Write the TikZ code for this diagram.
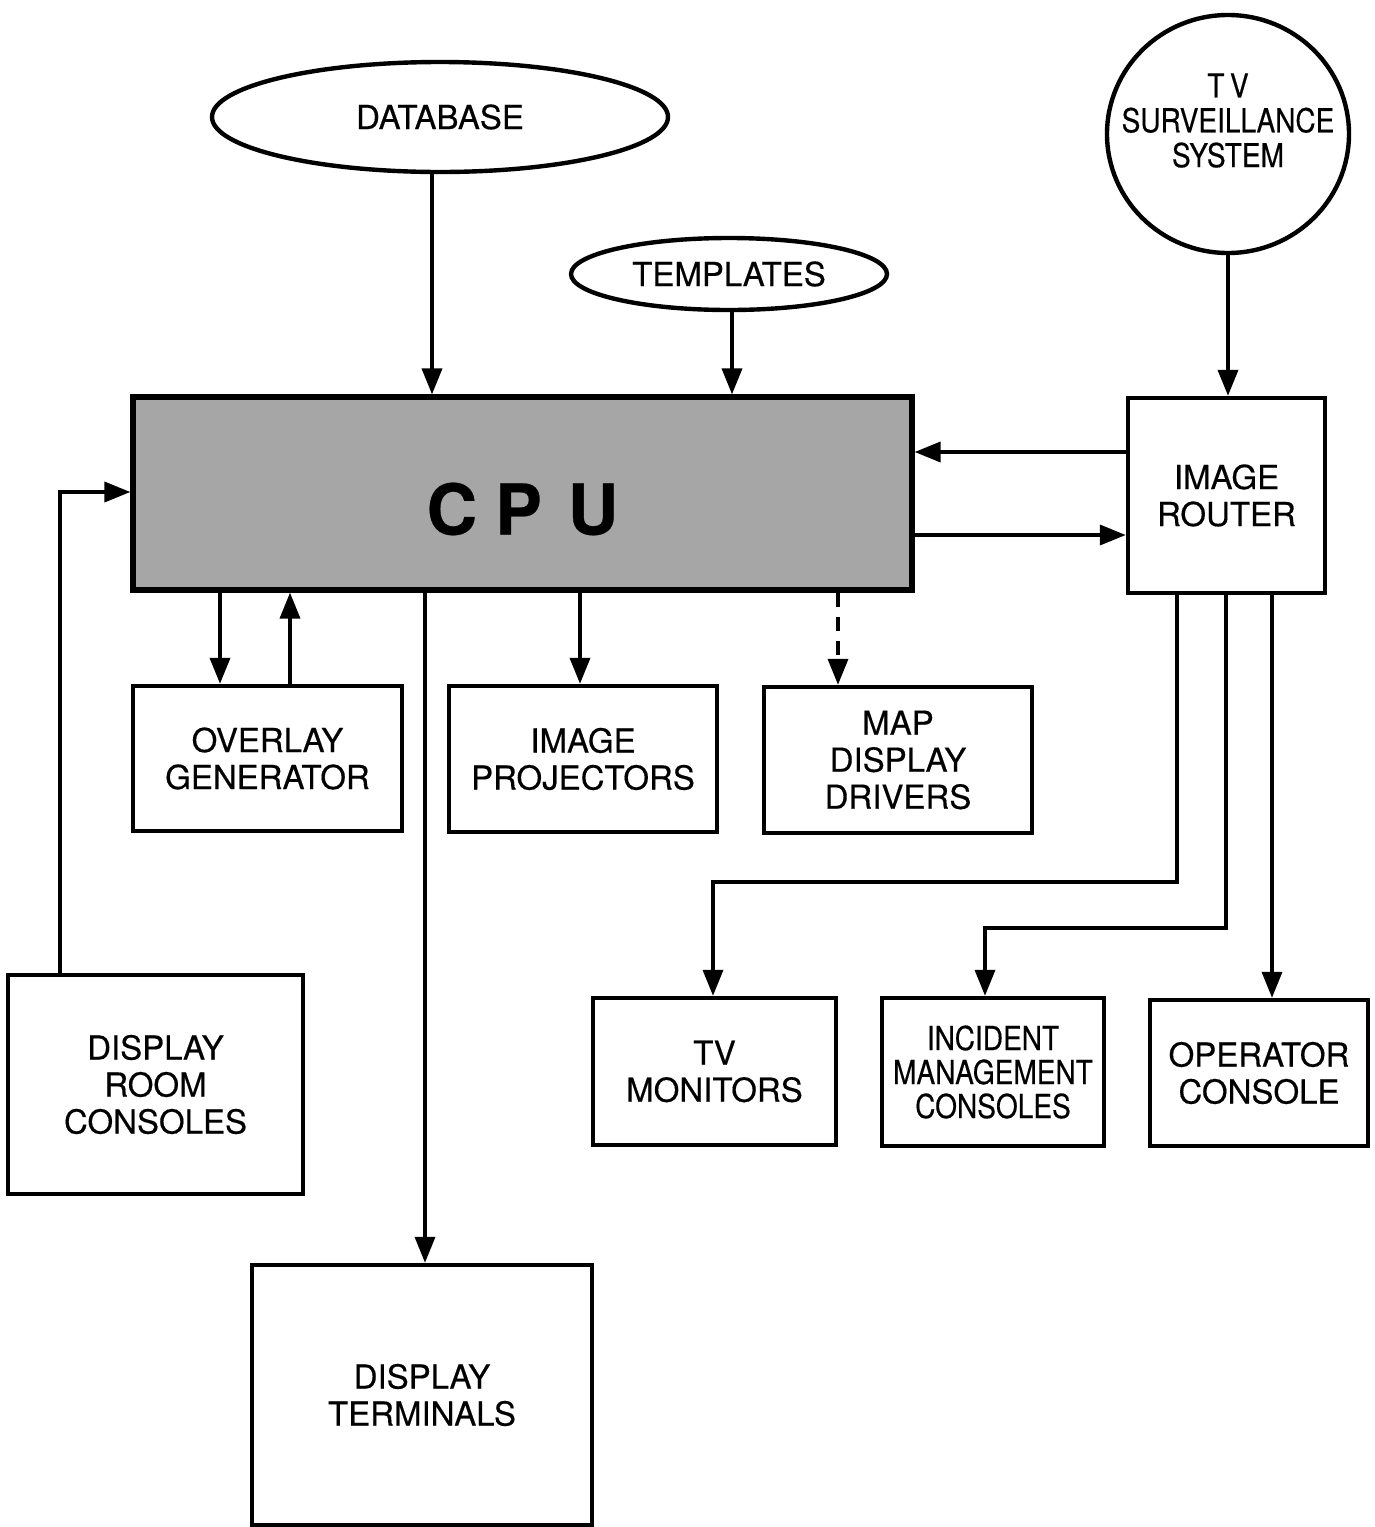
\documentclass[tikz,border=0pt]{standalone}
\usepackage{fontspec}
\setmainfont{TeX Gyre Heros}[FakeBold=0.4]
\newfontfamily\condfont{TeX Gyre Heros}[FakeStretch=0.85,FakeBold=0.4]
\usetikzlibrary{arrows.meta,shapes.geometric}
\begin{document}
\begin{tikzpicture}[x=0.5pt,y=-0.5pt,
  every node/.style={font=\fontsize{16.5}{18.5}\selectfont, align=center},
  box/.style={draw, line width=2.2pt, inner sep=0pt},
  oval/.style={draw, ellipse, line width=2.2pt, inner sep=0pt},
  arr/.style={line width=1.8pt, -{Triangle[length=13pt,width=10pt]}},
  cond/.style={font=\condfont\fontsize{16.5}{17}\selectfont}]
\useasboundingbox (0,0) rectangle (1375,1527);

% nodes
\node[oval, minimum width=228pt, minimum height=55pt] (db) at (440,117) {DATABASE};
\node[oval, minimum width=158pt, minimum height=36pt] (tp) at (729,274) {TEMPLATES};
\node[oval, minimum width=121pt, minimum height=119pt, cond] (tv) at (1228,134)
  {\smash{\makebox[0pt]{\begin{tabular}{@{}c@{}}T\,V\\SURVEILLANCE\\SYSTEM\end{tabular}}}};
\node[box, fill=black!35, line width=2.6pt, minimum width=389.5pt, minimum height=96.5pt,
      font=\bfseries\fontsize{35}{40}\selectfont] (cpu) at (522.5,493.5)
      {\smash{\raisebox{-20.5pt}{C\hspace{9pt}P\hspace{13pt}U}}};
\node[box, minimum width=98.5pt, minimum height=97.5pt] (router) at (1226.5,495.5) {IMAGE\\ROUTER};
\node[box, minimum width=134.5pt, minimum height=72.5pt] (ov) at (267.5,758.5) {OVERLAY\\GENERATOR};
\node[box, minimum width=134pt, minimum height=73pt] (pj) at (583,759) {IMAGE\\PROJECTORS};
\node[box, minimum width=134pt, minimum height=73pt] (mp) at (898,760) {MAP\\DISPLAY\\DRIVERS};
\node[box, minimum width=147.5pt, minimum height=109.5pt] (dr) at (155.5,1084.5) {DISPLAY\\ROOM\\CONSOLES};
\node[box, minimum width=121.5pt, minimum height=73.5pt] (tvm) at (714.5,1071.5) {TV\\MONITORS};
\node[box, minimum width=111pt, minimum height=74pt, cond] (im) at (993,1072) {INCIDENT\\MANAGEMENT\\CONSOLES};
\node[box, minimum width=109pt, minimum height=73pt] (op) at (1259,1073) {OPERATOR\\CONSOLE};
\node[box, minimum width=170pt, minimum height=130pt] (dt) at (422,1395) {DISPLAY\\TERMINALS};

% tracks
\coordinate (xDB) at (432,0);
\coordinate (xTP) at (732,0);
\coordinate (xOv1) at (220,0);
\coordinate (xOv2) at (290,0);
\coordinate (xPJ) at (580,0);
\coordinate (xMP) at (838,0);
\coordinate (xDT) at (425,0);
\coordinate (xDR) at (60,0);
\coordinate (xR1) at (1177,0);
\coordinate (xR2) at (1226,0);
\coordinate (xR3) at (1272,0);
\coordinate (xTV) at (713,0);
\coordinate (xIM) at (985,0);
\coordinate (yIn) at (0,452);
\coordinate (yOut) at (0,535);
\coordinate (yDR) at (0,492);
\coordinate (yR1) at (0,882);
\coordinate (yR2) at (0,928);

% connectors
\draw[arr] (db.south -| xDB) -- (cpu.north -| xDB);
\draw[arr] (tp.south -| xTP) -- (cpu.north -| xTP);
\draw[arr] (tv.south) -- (router.north -| tv.south);
\draw[arr] (router.west |- yIn) -- (cpu.east |- yIn);
\draw[arr] (cpu.east |- yOut) -- (router.west |- yOut);
\draw[arr] (cpu.south -| xOv1) -- (ov.north -| xOv1);
\draw[arr] (ov.north -| xOv2) -- (cpu.south -| xOv2);
\draw[arr] (cpu.south -| xPJ) -- (pj.north -| xPJ);
\draw[arr, dash pattern=on 7pt off 5pt] (cpu.south -| xMP) -- (mp.north -| xMP);
\draw[arr] (cpu.south -| xDT) -- (dt.north -| xDT);
\draw[arr] (dr.north -| xDR) -- (xDR |- yDR) -- (cpu.west |- yDR);
\draw[arr] (router.south -| xR1) -- (xR1 |- yR1) -- (xTV |- yR1) -- (tvm.north -| xTV);
\draw[arr] (router.south -| xR2) -- (xR2 |- yR2) -- (xIM |- yR2) -- (im.north -| xIM);
\draw[arr] (router.south -| xR3) -- (op.north -| xR3);
\end{tikzpicture}
\end{document}
